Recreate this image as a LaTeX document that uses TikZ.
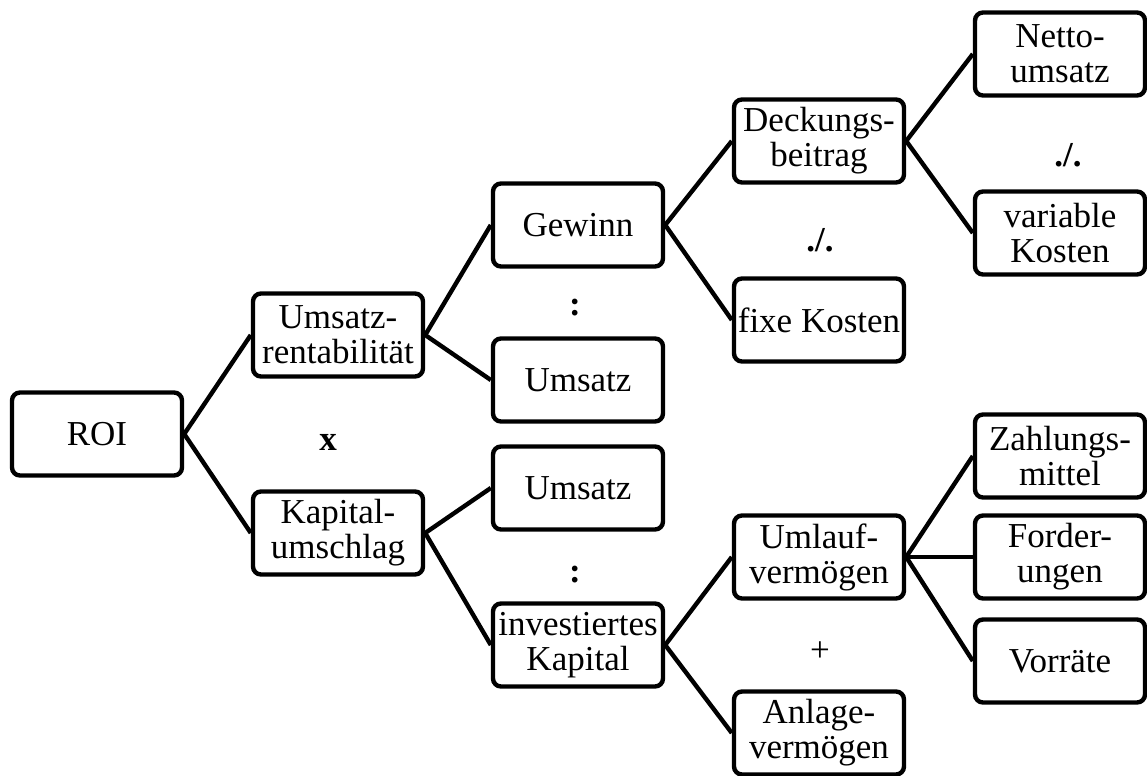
\documentclass[tikz,border=0pt]{standalone}
\usepackage{fontspec}
\setmainfont{Liberation Serif}
\begin{document}
\begin{tikzpicture}[x=0.5pt,y=-0.5pt,
  box/.style={draw,line width=2.2pt,rounded corners=4pt,minimum width=85pt,minimum height=41.5pt,inner sep=0pt,align=center,font=\fontsize{17.5}{17.5}\selectfont},
  op/.style={inner sep=0pt,font=\fontsize{17.5}{17.5}\selectfont\bfseries},
  link/.style={line width=2.2pt}]
\useasboundingbox (0,0) rectangle (1147,776);
\node[box] (roi) at (97,434) {ROI};
\node[box] (ur) at (338,335) {Umsatz-\\rentabilität};
\node[box] (ku) at (338,533) {Kapital-\\umschlag};
\node[box] (gew) at (578,225) {Gewinn};
\node[box] (ums1) at (578,380) {Umsatz};
\node[box] (ums2) at (578,488) {Umsatz};
\node[box] (ik) at (578,645) {investiertes\\Kapital};
\node[box] (db) at (819,141) {Deckungs-\\beitrag};
\node[box] (fk) at (819,320) {fixe Kosten};
\node[box] (uv) at (819,557) {Umlauf-\\vermögen};
\node[box] (av) at (819,733) {Anlage-\\vermögen};
\node[box] (nu) at (1060,54) {Netto-\\umsatz};
\node[box] (vk) at (1060,233) {variable\\Kosten};
\node[box] (zm) at (1060,456) {Zahlungs-\\mittel};
\node[box] (fo) at (1060,557) {Forder-\\ungen};
\node[box] (vo) at (1060,661) {Vorräte};
\node[op] (o1) at (328,442) {x};
\node[op] (o2) at (575,308) {:};
\node[op] (o3) at (575,575) {:};
\node[op] (o4) at (820,240) {./.};
\node[op] (o5) at (1068,155) {./.};
\node[op,font=\fontsize{17.5}{17.5}\selectfont] (o6) at (820,652) {+};
\draw[link] (roi.east) -- (ur.west);
\draw[link] (roi.east) -- (ku.west);
\draw[link] (ur.east) -- (gew.west);
\draw[link] (ur.east) -- (ums1.west);
\draw[link] (ku.east) -- (ums2.west);
\draw[link] (ku.east) -- (ik.west);
\draw[link] (gew.east) -- (db.west);
\draw[link] (gew.east) -- (fk.west);
\draw[link] (ik.east) -- (uv.west);
\draw[link] (ik.east) -- (av.west);
\draw[link] (db.east) -- (nu.west);
\draw[link] (db.east) -- (vk.west);
\draw[link] (uv.east) -- (zm.west);
\draw[link] (uv.east) -- (fo.west);
\draw[link] (uv.east) -- (vo.west);
\end{tikzpicture}
\end{document}
